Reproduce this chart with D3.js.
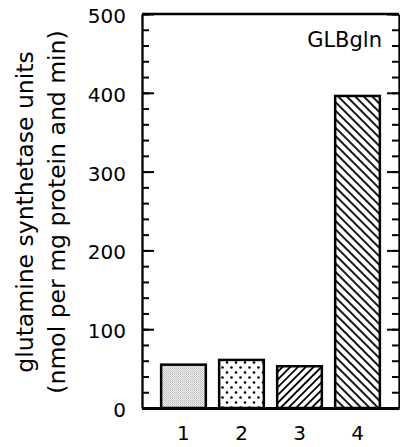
<!DOCTYPE html>
<html>
<head>
<meta charset="utf-8">
<script src="https://cdn.jsdelivr.net/npm/d3@7"></script>
<style>
  body { margin: 0; background: #fff; }
  svg { display: block; }
  text { font-family: "DejaVu Sans", sans-serif; fill: #000; }
</style>
</head>
<body>
<script>
// chart data
const categories = ['1', '2', '3', '4'];
const values = [55, 61, 53, 396];
const fills = ['url(#stipple)', 'url(#dots)', 'url(#fwd)', 'url(#back)'];
const majorTicks = [0, 100, 200, 300, 400, 500];
const minorTicks = d3.range(0, 501, 20);
const yTitle = ['glutamine synthetase units', '(nmol per mg protein and min)'];
const panelLabel = 'GLBgln';

const w = 400;
const h = 447;
const padL = 142, padR = 399, padT = 14, padB = 408;

const svg = d3.select('body')
    .append('svg')
    .attr('width', w)
    .attr('height', h);

// fill patterns
const defs = svg.append('defs');

const p1 = defs.append('pattern').attr('id', 'stipple')
    .attr('width', 2).attr('height', 2).attr('patternUnits', 'userSpaceOnUse');
p1.append('rect').attr('width', 2).attr('height', 2).attr('fill', '#f0f0f0');
p1.append('rect').attr('width', 1).attr('height', 1).attr('fill', '#b8b8b8');
p1.append('rect').attr('x', 1).attr('y', 1).attr('width', 1).attr('height', 1).attr('fill', '#cccccc');

const p2 = defs.append('pattern').attr('id', 'dots')
    .attr('width', 9).attr('height', 10).attr('patternUnits', 'userSpaceOnUse');
p2.append('rect').attr('width', 9).attr('height', 10).attr('fill', '#fff');
p2.append('circle').attr('cx', 2).attr('cy', 2.5).attr('r', 1.3).attr('fill', '#000');
p2.append('circle').attr('cx', 6.5).attr('cy', 7.5).attr('r', 1.3).attr('fill', '#000');

function hatch(id, angle, gap) {
    const p = defs.append('pattern').attr('id', id)
        .attr('width', gap).attr('height', gap)
        .attr('patternUnits', 'userSpaceOnUse')
        .attr('patternTransform', 'rotate(' + angle + ')');
    p.append('rect').attr('width', gap).attr('height', gap).attr('fill', '#fff');
    p.append('line').attr('x1', gap / 2).attr('x2', gap / 2)
        .attr('y1', 0).attr('y2', gap)
        .attr('stroke', '#000').attr('stroke-width', 1.8);
}
hatch('fwd', 45, 5.5);
hatch('back', -45, 6);

const xScale = d3.scaleBand()
    .domain(categories)
    .range([padL, padR])
    .paddingInner(0.23)
    .paddingOuter(0.33);

const yScale = d3.scaleLinear()
    .domain([0, 500])
    .range([padB, padT]);

// bars
svg.selectAll('rect.bar')
    .data(values)
    .enter()
    .append('rect')
    .attr('class', 'bar')
    .attr('x', (d, i) => xScale(categories[i]))
    .attr('y', d => yScale(d))
    .attr('width', xScale.bandwidth())
    .attr('height', d => yScale(0) - yScale(d))
    .attr('fill', (d, i) => fills[i])
    .attr('stroke', '#000')
    .attr('stroke-width', 2.5);

// minor ticks, left and right
svg.append('g')
    .attr('transform', 'translate(' + padL + ',0)')
    .call(d3.axisLeft(yScale).tickValues(minorTicks).tickSize(-7).tickFormat(''))
    .call(g => g.select('.domain').remove())
    .selectAll('line').attr('stroke-width', 2);

svg.append('g')
    .attr('transform', 'translate(' + padR + ',0)')
    .call(d3.axisRight(yScale).tickValues(minorTicks).tickSize(-7).tickFormat(''))
    .call(g => g.select('.domain').remove())
    .selectAll('line').attr('stroke-width', 2);

// major ticks + labels
const yAxis = svg.append('g')
    .attr('transform', 'translate(' + padL + ',0)')
    .call(d3.axisLeft(yScale).tickValues(majorTicks).tickSizeInner(-12).tickSizeOuter(0).tickPadding(16));
yAxis.selectAll('text').attr('font-size', 20).attr('font-family', null).attr('dy', '0.42em');
yAxis.selectAll('line').attr('stroke-width', 2);
yAxis.select('.domain').attr('stroke-width', 2.3);

const yAxisR = svg.append('g')
    .attr('transform', 'translate(' + padR + ',0)')
    .call(d3.axisRight(yScale).tickValues(majorTicks).tickSizeInner(-12).tickSizeOuter(0).tickFormat(''));
yAxisR.selectAll('line').attr('stroke-width', 2);
yAxisR.select('.domain').attr('stroke-width', 2.3);

// top frame
svg.append('line')
    .attr('x1', padL).attr('x2', padR)
    .attr('y1', yScale(500)).attr('y2', yScale(500))
    .attr('stroke', '#000').attr('stroke-width', 2.3);

// x axis
const xAxis = svg.append('g')
    .attr('transform', 'translate(0,' + padB + ')')
    .call(d3.axisBottom(xScale).tickSize(0).tickPadding(18));
xAxis.selectAll('text').attr('font-size', 20).attr('font-family', null);
xAxis.select('.domain').attr('stroke-width', 2.8);

// panel label
svg.append('text')
    .attr('x', 382).attr('y', 47)
    .attr('text-anchor', 'end')
    .attr('font-size', 21)
    .text(panelLabel);

// y title
svg.append('g')
    .selectAll('text')
    .data(yTitle)
    .enter()
    .append('text')
    .attr('transform', (d, i) => 'translate(' + (33 + i * 32) + ',212) rotate(-90)')
    .attr('text-anchor', 'middle')
    .attr('font-size', 23.5)
    .text(d => d);
</script>
</body>
</html>
